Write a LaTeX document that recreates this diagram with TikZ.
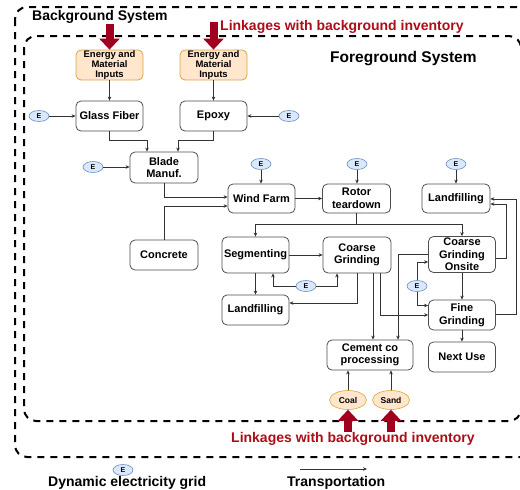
\documentclass[tikz,border=0pt]{standalone}
\usepackage{fontspec}
\setmainfont{Liberation Sans}
\usetikzlibrary{arrows.meta,shapes.geometric}
\definecolor{dred}{HTML}{A0001E}
\definecolor{tred}{HTML}{AC0D18}
\definecolor{boxc}{HTML}{4D4D4D}
\definecolor{connc}{HTML}{333333}
\definecolor{peach}{HTML}{FFE6CC}
\definecolor{peachd}{HTML}{D9A441}
\definecolor{bluef}{HTML}{DAE8FC}
\definecolor{blued}{HTML}{6C8EBF}
\begin{document}
\begin{tikzpicture}[x=1pt,y=-1pt,
  box/.style={draw=boxc, line width=0.8pt, rounded corners=5pt, align=center, inner sep=0pt,
    minimum width=67pt, minimum height=30pt, font=\fontsize{11}{12.5}\selectfont\bfseries},
  inbox/.style={box, fill=peach, draw=peachd, font=\fontsize{9.5}{10}\selectfont\bfseries},
  egrid/.style={ellipse, draw=blued, fill=bluef, line width=0.6pt, minimum width=20pt, minimum height=11pt,
    inner sep=0pt, font=\fontsize{7}{7}\selectfont\bfseries},
  resource/.style={ellipse, draw=peachd, fill=peach, line width=0.6pt, minimum width=37pt, minimum height=19pt,
    inner sep=0pt, font=\fontsize{8.5}{9}\selectfont\bfseries},
  conn/.style={draw=connc, line width=0.6pt, -{Stealth[length=4pt,width=3.5pt]}},
  big/.style={draw=dred, line width=8pt, -{Triangle[length=11pt,width=20pt]}},
  dashbox/.style={draw=black, line width=2pt, dash pattern=on 7pt off 6pt, rounded corners=12pt},
  title/.style={font=\fontsize{14}{16}\selectfont\bfseries, inner sep=0pt},
  linktext/.style={title, text=tred}
]
\useasboundingbox (0,0) rectangle (520,490);
\clip (0,0) rectangle (520,490);

% system boundaries
\draw[dashbox] (15,7) rectangle (545,457);
\draw[dashbox] (24,36) rectangle (521,421);

\node[title, anchor=west] (bgs) at (32,17) {Background System};
\node[linktext, anchor=west] (lk1) at (220,27) {Linkages with background inventory};
\node[title, font=\fontsize{15.5}{17}\selectfont\bfseries, anchor=west] (fgs) at (330,59) {Foreground System};
\node[linktext, anchor=west] (lk2) at (231,439) {Linkages with background inventory};

% nodes
\node[inbox] (em1) at (109.5,65) {Energy and\\Material\\Inputs};
\node[inbox] (em2) at (213.5,65) {Energy and\\Material\\Inputs};
\node[box] (gf) at (109.5,116) {Glass Fiber};
\node[box] (ep) at (213.5,116) {Epoxy};
\node[box, minimum width=68pt, minimum height=31pt] (bm) at (164,167.5) {Blade\\Manuf.};
\node[box, minimum width=68pt] (co) at (164,255) {Concrete};
\node[box, minimum height=29pt] (wf) at (261.5,198.5) {Wind Farm};
\node[box, minimum width=68pt, minimum height=29pt] (rt) at (356.5,198.5) {Rotor\\teardown};
\node[box, minimum width=68pt, minimum height=29pt] (lf1) at (456,198.5) {Landfilling};
\node[box, minimum height=36pt] (sg) at (255.5,255) {Segmenting};
\node[box, minimum width=68pt, minimum height=36pt] (cg) at (357,255) {Coarse\\Grinding};
\node[box, minimum height=36pt] (cgo) at (462,254.5) {Coarse\\Grinding\\Onsite};
\node[box] (lf2) at (255.5,310) {Landfilling};
\node[box] (fg) at (462,315) {Fine\\Grinding};
\node[box, minimum width=86pt] (cc) at (370,355) {Cement co\\processing};
\node[box] (nu) at (462,357) {Next Use};
\node[resource] (coal) at (348,400) {Coal};
\node[resource] (sand) at (391,400) {Sand};

% electricity
\node[egrid] (eg) at (39,116) {E};
\node[egrid] (ee) at (289,116) {E};
\node[egrid] (eb) at (93,167) {E};
\node[egrid] (ew) at (261,164) {E};
\node[egrid] (er) at (357,164) {E};
\node[egrid] (el) at (456,164) {E};
\node[egrid] (es) at (306,286) {E};
\node[egrid] (eo) at (417,286) {E};

% big linkage arrows
\coordinate (a1) at (109.5,24);
\coordinate (a2) at (213.5,22);
\coordinate (a3) at (348,432);
\coordinate (a4) at (391,432);
\draw[big] (a1) -- (em1.north);
\draw[big] (a2) -- (em2.north);
\draw[big] (a3) -- (coal.south);
\draw[big] (a4) -- (sand.south);

% connectors
\draw[conn] (em1.south) -- (gf.north);
\draw[conn] (em2.south) -- (ep.north);
\draw[conn] (eg.east) -- (gf.west);
\draw[conn] (ee.west) -- (ep.east);
\draw[conn] (eb.east) -- (eb.east -| bm.west);
\draw[conn] (gf.south) -- ++(0,9) -| ([xshift=-17pt]bm.north);
\draw[conn] (ep.south) -- ++(0,9) -| ([xshift=14pt]bm.north);
\draw[conn] (bm.south) |- ([yshift=1.5pt]wf.west);
\draw[conn] (co.north) |- ([yshift=-7.5pt]wf.west);
\draw[conn] (ew.south) -- (ew.south |- wf.north);
\draw[conn] (er.south) -- (er.south |- rt.north);
\draw[conn] (el.south) -- (el.south |- lf1.north);
\draw[conn] (wf.east) -- (rt.west);
\coordinate (rtj) at ([yshift=-11pt]rt.south);
\draw[connc, line width=0.6pt] (rt.south) -- (rtj);
\draw[conn] (rtj) -| (sg.north);
\draw[conn] (rtj) -| (cgo.north);
\draw[conn] (sg.east) -- (cg.west);
\draw[conn] (es.west) -| ([xshift=17.5pt]sg.south);
\draw[conn] (es.east) -| ([xshift=-20pt]cg.south);
\draw[conn] (sg.south) -- (lf2.north);
\draw[conn] (cg.south) |- ([yshift=7pt]lf2.east);
\draw[conn] ([xshift=16pt]cg.south) -- ([xshift=16pt]cg.south |- cc.north);
\draw[conn] ([xshift=23pt]cg.south) |- (fg.west);
\draw[conn] (cgo.west) -| ([xshift=28pt]cc.north);
\draw[conn] (eo.north) |- ([yshift=-7.5pt]cgo.west);
\draw[conn] (eo.south) |- ([yshift=9.5pt]fg.west);
\draw[conn] (cgo.south) -- (fg.north);
\draw[conn] ([yshift=-4pt]cgo.east) -- ++(10.5,0) |- ([yshift=-5.5pt]lf1.east);
\draw[conn] ([yshift=1pt]fg.east) -- ++(20.5,0) |- ([yshift=-0.5pt]lf1.east);
\draw[conn] (fg.south) -- (nu.north);
\draw[conn] (coal.north) -- (coal.north |- cc.south);
\draw[conn] (sand.north) -- (sand.north |- cc.south);

% legend
\node[egrid] (leg) at (123,470) {E};
\coordinate (t1) at (300,469);
\coordinate (t2) at (367,469);
\draw[conn] (t1) -- (t2);
\node[title, anchor=base west] (legE) at (48,486) {Dynamic electricity grid};
\node[title, anchor=base west] (legT) at (287,486) {Transportation};
\end{tikzpicture}
\end{document}
